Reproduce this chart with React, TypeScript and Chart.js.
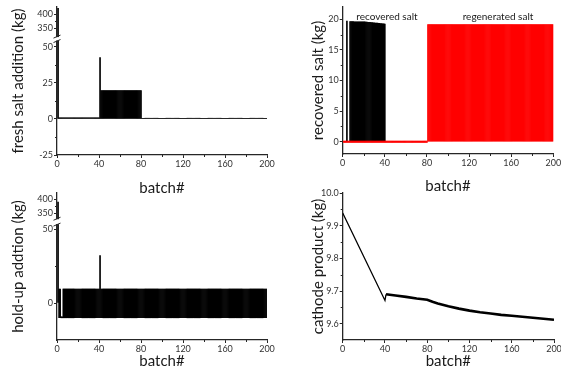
import React, { useEffect, useRef } from 'react';
import { Chart, registerables, LinearScale } from 'chart.js';

const FONT = 'Lato, "Noto Sans", sans-serif';
const AXIS = '#262626';
const TICK_COLOR = '#333333';
const TITLE_COLOR = '#1a1a1a';

// ---------- data ----------
// fresh salt addition (kg), batches 1..200
const freshSalt = [
  420, 0.8, 0.8, 0.8, 0.8, 0.8, 0.8, 0.8, 0.8, 0.8, 0.8, 0.8, 0.8, 0.8, 0.8, 0.8, 0.8, 0.8, 0.8, 0.8,
  0.8, 0.8, 0.8, 0.8, 0.8, 0.8, 0.8, 0.8, 0.8, 0.8, 0.8, 0.8, 0.8, 0.8, 0.8, 0.8, 0.8, 0.8, 0.8, 0.8,
  42.5, 19.7, 19.7, 19.7, 19.7, 19.7, 19.7, 19.7, 19.7, 19.7, 19.7, 19.7, 19.7, 19.7, 19.7, 19.7, 19.7, 19.7, 19.7, 19.7,
  19.7, 19.7, 19.7, 19.7, 19.7, 19.7, 19.7, 19.7, 19.7, 19.7, 19.7, 19.7, 19.7, 19.7, 19.7, 19.7, 19.7, 19.7, 19.7, 19.7,
  0.5, 0.5, 0.5, 0.5, 0.5, 0.5, 0.5, 0.5, 0.5, 0.5, 0.5, 0.5, 0.5, 0.5, 0.5, 0.5, 0.5, 0.5, 0.5, 0.5,
  0.5, 0.5, 0.5, 0.5, 0.5, 0.5, 0.5, 0.5, 0.5, 0.5, 0.5, 0.5, 0.5, 0.5, 0.5, 0.5, 0.5, 0.5, 0.5, 0.5,
  0.5, 0.5, 0.5, 0.5, 0.5, 0.5, 0.5, 0.5, 0.5, 0.5, 0.5, 0.5, 0.5, 0.5, 0.5, 0.5, 0.5, 0.5, 0.5, 0.5,
  0.5, 0.5, 0.5, 0.5, 0.5, 0.5, 0.5, 0.5, 0.5, 0.5, 0.5, 0.5, 0.5, 0.5, 0.5, 0.5, 0.5, 0.5, 0.5, 0.5,
  0.5, 0.5, 0.5, 0.5, 0.5, 0.5, 0.5, 0.5, 0.5, 0.5, 0.5, 0.5, 0.5, 0.5, 0.5, 0.5, 0.5, 0.5, 0.5, 0.5,
  0.5, 0.5, 0.5, 0.5, 0.5, 0.5, 0.5, 0.5, 0.5, 0.5, 0.5, 0.5, 0.5, 0.5, 0.5, 0.5, 0.5, 0.5, 0.5, 0.5,
];

// recovered salt (kg), batches 1..40
const recoveredSalt = [
  null, null, null, 19.7, null, null, 19.62, 19.62, 19.61, 19.61, 19.6, 19.6, 19.6, 19.59, 19.59, 19.59, 19.58, 19.58, 19.58, 19.57,
  19.57, 19.55, 19.54, 19.52, 19.5, 19.49, 19.47, 19.46, 19.44, 19.42, 19.4, 19.38, 19.36, 19.34, 19.32, 19.3, 19.28, 19.26, 19.24, 19.22,
];

// regenerated salt (kg), batches 1..200
const regeneratedSalt = [
  0, 0, 0, 0, 0, 0, 0, 0, 0, 0, 0, 0, 0, 0, 0, 0, 0, 0, 0, 0,
  0, 0, 0, 0, 0, 0, 0, 0, 0, 0, 0, 0, 0, 0, 0, 0, 0, 0, 0, 0,
  0, 0, 0, 0, 0, 0, 0, 0, 0, 0, 0, 0, 0, 0, 0, 0, 0, 0, 0, 0,
  0, 0, 0, 0, 0, 0, 0, 0, 0, 0, 0, 0, 0, 0, 0, 0, 0, 0, 0, 0,
  19.15, 19.15, 19.15, 19.15, 19.15, 19.15, 19.15, 19.15, 19.15, 19.15, 19.15, 19.15, 19.15, 19.15, 19.15, 19.15, 19.15, 19.15, 19.15, 19.15,
  19.15, 19.15, 19.15, 19.15, 19.15, 19.15, 19.15, 19.15, 19.15, 19.15, 19.15, 19.15, 19.15, 19.15, 19.15, 19.15, 19.15, 19.15, 19.15, 19.15,
  19.15, 19.15, 19.15, 19.15, 19.15, 19.15, 19.15, 19.15, 19.15, 19.15, 19.15, 19.15, 19.15, 19.15, 19.15, 19.15, 19.15, 19.15, 19.15, 19.15,
  19.15, 19.15, 19.15, 19.15, 19.15, 19.15, 19.15, 19.15, 19.15, 19.15, 19.15, 19.15, 19.15, 19.15, 19.15, 19.15, 19.15, 19.15, 19.15, 19.15,
  19.15, 19.15, 19.15, 19.15, 19.15, 19.15, 19.15, 19.15, 19.15, 19.15, 19.15, 19.15, 19.15, 19.15, 19.15, 19.15, 19.15, 19.15, 19.15, 19.15,
  19.15, 19.15, 19.15, 19.15, 19.15, 19.15, 19.15, 19.15, 19.15, 19.15, 19.15, 19.15, 19.15, 19.15, 19.15, 19.15, 19.15, 19.15, 19.15, 19.15,
];

// hold-up addition (kg): top and bottom of each batch's bar, batches 1..200
const holdUpHigh = [
  390, 9.5, 9.5, -9.3, -9.3, 9.5, 9.5, 9.5, 9.5, 9.5, 9.5, 9.5, 9.5, 9.5, 9.5, 9.5, 9.5, 9.5, 9.5, 9.5,
  9.5, 9.5, 9.5, 9.5, 9.5, 9.5, 9.5, 9.5, 9.5, 9.5, 9.5, 9.5, 9.5, 9.5, 9.5, 9.5, 9.5, 9.5, 9.5, 9.5,
  32, 9.5, 9.5, 9.5, 9.5, 9.5, 9.5, 9.5, 9.5, 9.5, 9.5, 9.5, 9.5, 9.5, 9.5, 9.5, 9.5, 9.5, 9.5, 9.5,
  9.5, 9.5, 9.5, 9.5, 9.5, 9.5, 9.5, 9.5, 9.5, 9.5, 9.5, 9.5, 9.5, 9.5, 9.5, 9.5, 9.5, 9.5, 9.5, 9.5,
  9.5, 9.5, 9.5, 9.5, 9.5, 9.5, 9.5, 9.5, 9.5, 9.5, 9.5, 9.5, 9.5, 9.5, 9.5, 9.5, 9.5, 9.5, 9.5, 9.5,
  9.5, 9.5, 9.5, 9.5, 9.5, 9.5, 9.5, 9.5, 9.5, 9.5, 9.5, 9.5, 9.5, 9.5, 9.5, 9.5, 9.5, 9.5, 9.5, 9.5,
  9.5, 9.5, 9.5, 9.5, 9.5, 9.5, 9.5, 9.5, 9.5, 9.5, 9.5, 9.5, 9.5, 9.5, 9.5, 9.5, 9.5, 9.5, 9.5, 9.5,
  9.5, 9.5, 9.5, 9.5, 9.5, 9.5, 9.5, 9.5, 9.5, 9.5, 9.5, 9.5, 9.5, 9.5, 9.5, 9.5, 9.5, 9.5, 9.5, 9.5,
  9.5, 9.5, 9.5, 9.5, 9.5, 9.5, 9.5, 9.5, 9.5, 9.5, 9.5, 9.5, 9.5, 9.5, 9.5, 9.5, 9.5, 9.5, 9.5, 9.5,
  9.5, 9.5, 9.5, 9.5, 9.5, 9.5, 9.5, 9.5, 9.5, 9.5, 9.5, 9.5, 9.5, 9.5, 9.5, 9.5, 9.5, 9.5, 9.5, 9.5,
];
const holdUpLow = [
  0, -10, -10, -10, -10, -10, -10, -10, -10, -10, -10, -10, -10, -10, -10, -10, -10, -10, -10, -10,
  -10, -10, -10, -10, -10, -10, -10, -10, -10, -10, -10, -10, -10, -10, -10, -10, -10, -10, -10, -10,
  -10, -10, -10, -10, -10, -10, -10, -10, -10, -10, -10, -10, -10, -10, -10, -10, -10, -10, -10, -10,
  -10, -10, -10, -10, -10, -10, -10, -10, -10, -10, -10, -10, -10, -10, -10, -10, -10, -10, -10, -10,
  -10, -10, -10, -10, -10, -10, -10, -10, -10, -10, -10, -10, -10, -10, -10, -10, -10, -10, -10, -10,
  -10, -10, -10, -10, -10, -10, -10, -10, -10, -10, -10, -10, -10, -10, -10, -10, -10, -10, -10, -10,
  -10, -10, -10, -10, -10, -10, -10, -10, -10, -10, -10, -10, -10, -10, -10, -10, -10, -10, -10, -10,
  -10, -10, -10, -10, -10, -10, -10, -10, -10, -10, -10, -10, -10, -10, -10, -10, -10, -10, -10, -10,
  -10, -10, -10, -10, -10, -10, -10, -10, -10, -10, -10, -10, -10, -10, -10, -10, -10, -10, -10, -10,
  -10, -10, -10, -10, -10, -10, -10, -10, -10, -10, -10, -10, -10, -10, -10, -10, -10, -10, -10, -10,
];

// cathode product (kg)
const cathodeBatch = [0, 40, 41, 50, 60, 70, 80, 85, 90, 100, 110, 120, 130, 140, 150, 160, 170, 180, 190, 200];
const cathodeProduct = [9.939, 9.671, 9.690, 9.686, 9.682, 9.677, 9.673, 9.667, 9.662, 9.653, 9.646, 9.640, 9.635, 9.631, 9.627, 9.624, 9.621, 9.618, 9.615, 9.612];

// ticks
const xTicks = [0, 40, 80, 120, 160, 200];
const xMinor = [20, 60, 100, 140, 180];
const freshTicks = [-25, 0, 25, 50, 350, 400];
const freshMinor = [-12.5, 12.5, 37.5, 375];
const recoveredTicks = [0, 5, 10, 15, 20];
const recoveredMinor = [2.5, 7.5, 12.5, 17.5];
const holdTicks = [0, 50, 350, 400];
const holdMinor = [25, 375];
const cathodeTicks = [9.6, 9.7, 9.8, 9.9, 10.0];
const cathodeMinor = [9.65, 9.75, 9.85, 9.95];

// ---------- broken axis scale ----------
const BREAKS: Record<string, any> = {
  yFresh: { lowMin: -25, lowMax: 54, highMin: 320, highMax: 425, lowFrac: 0.77, highFrac: 0.2 },
  yHold: { lowMin: -25, lowMax: 53, highMin: 330, highMax: 422, lowFrac: 0.785, highFrac: 0.175 },
};

class BrokenScale extends LinearScale {
  static id = 'broken';
  static defaults = {};
  getPixelForValue(value: any) {
    const b = BREAKS[(this as any).id];
    if (!b) return super.getPixelForValue(value);
    if (value === null || value === undefined || isNaN(value)) return NaN;
    const top = (this as any).top, bottom = (this as any).bottom;
    const H = bottom - top;
    const lowH = H * b.lowFrac, highH = H * b.highFrac, gap = H - lowH - highH;
    if (value <= b.lowMax) return bottom - ((value - b.lowMin) / (b.lowMax - b.lowMin)) * lowH;
    if (value >= b.highMin) return top + ((b.highMax - value) / (b.highMax - b.highMin)) * highH;
    return bottom - lowH - ((value - b.lowMax) / (b.highMin - b.lowMax)) * gap;
  }
  getValueForPixel(pixel: number) {
    const b = BREAKS[(this as any).id];
    if (!b) return super.getValueForPixel(pixel);
    const top = (this as any).top, bottom = (this as any).bottom;
    const H = bottom - top;
    const lowH = H * b.lowFrac, highH = H * b.highFrac, gap = H - lowH - highH;
    const fromBottom = bottom - pixel;
    if (fromBottom <= lowH) return b.lowMin + (fromBottom / lowH) * (b.lowMax - b.lowMin);
    const fromTop = pixel - top;
    if (fromTop <= highH) return b.highMax - (fromTop / highH) * (b.highMax - b.highMin);
    return b.lowMax + ((fromBottom - lowH) / gap) * (b.highMin - b.lowMax);
  }
}

Chart.register(...registerables, BrokenScale as any);

// ---------- helpers ----------
const tickFont = { family: FONT, size: 9 };
const titleFont = { family: FONT, size: 15, lineHeight: 1.2 };

function xAxis(h: number) {
  return {
    type: 'linear',
    axis: 'x',
    position: 'bottom',
    min: 0,
    max: 200,
    offset: false,
    grid: { display: true, drawOnChartArea: false, drawTicks: true, tickLength: 3, color: AXIS, lineWidth: 1, offset: false },
    border: { display: true, color: AXIS, width: 1.2 },
    ticks: { font: tickFont, color: TICK_COLOR, padding: 1, autoSkip: false, maxRotation: 0, callback: (v: number) => String(v) },
    afterBuildTicks: (s: any) => { s.ticks = xTicks.map((value) => ({ value })); },
    title: { display: true, text: 'batch#', font: titleFont, color: TITLE_COLOR, padding: 0 },
    afterFit: (s: any) => { s.height = h; s.paddingLeft = 0; s.paddingRight = 0; },
  };
}

function yAxis(o: { type: string; min: number; max: number; ticks: number[]; width: number; title: string; fmt?: (v: number) => string }) {
  return {
    type: o.type,
    axis: 'y',
    position: 'left',
    min: o.min,
    max: o.max,
    grid: { display: true, drawOnChartArea: false, drawTicks: true, tickLength: 3, color: AXIS, lineWidth: 1 },
    border: { display: true, color: AXIS, width: 1.3 },
    ticks: { font: tickFont, color: TICK_COLOR, padding: 1, autoSkip: false, callback: o.fmt || ((v: number) => String(v)) },
    afterBuildTicks: (s: any) => { s.ticks = o.ticks.map((value) => ({ value })); },
    title: { display: true, text: o.title, font: titleFont, color: TITLE_COLOR, padding: 0 },
    afterFit: (s: any) => { s.width = o.width; s.paddingTop = 0; s.paddingBottom = 0; },
  };
}

function extras(cfg: { minor: Record<string, number[]>; brk?: string; labels?: { text: string; x: number; y: number; yId: string }[] }) {
  return {
    id: 'extras',
    afterDraw(chart: any) {
      const ctx = chart.ctx;
      ctx.save();
      ctx.strokeStyle = AXIS;
      ctx.lineWidth = 1;
      for (const id of Object.keys(cfg.minor)) {
        const s = chart.scales[id];
        for (const v of cfg.minor[id]) {
          const p = s.getPixelForValue(v);
          ctx.beginPath();
          if (s.isHorizontal()) {
            const px = Math.round(p) + 0.5;
            ctx.moveTo(px, s.top);
            ctx.lineTo(px, s.top + 2);
          } else {
            const py = Math.round(p) + 0.5;
            ctx.moveTo(s.right, py);
            ctx.lineTo(s.right - 2, py);
          }
          ctx.stroke();
        }
      }
      if (cfg.brk) {
        const s = chart.scales[cfg.brk];
        const b = BREAKS[cfg.brk];
        const y0 = s.getPixelForValue(b.lowMax);
        const y1 = s.getPixelForValue(b.highMin);
        const x = chart.chartArea.left;
        ctx.fillStyle = '#ffffff';
        ctx.fillRect(x - 2, y1 + 0.5, 4, y0 - y1 - 1);
        ctx.lineWidth = 1;
        for (const y of [y0, y1]) {
          ctx.beginPath();
          ctx.moveTo(x - 3.5, y + 1.5);
          ctx.lineTo(x + 3.5, y - 1.5);
          ctx.stroke();
        }
      }
      if (cfg.labels) {
        ctx.fillStyle = TITLE_COLOR;
        ctx.font = `10px ${FONT}`;
        ctx.textAlign = 'center';
        ctx.textBaseline = 'middle';
        for (const l of cfg.labels) {
          ctx.fillText(l.text, chart.scales.x.getPixelForValue(l.x), chart.scales[l.yId].getPixelForValue(l.y));
        }
      }
      ctx.restore();
    },
  };
}

const BASE = {
  responsive: false,
  maintainAspectRatio: false,
  animation: false,
  devicePixelRatio: 1,
  events: [],
  plugins: { legend: { display: false }, tooltip: { enabled: false } },
};

const BAR = { barPercentage: 1, categoryPercentage: 1, grouped: false, borderWidth: 0, inflateAmount: 0.3 };

function cfgFresh(): any {
  return {
    type: 'bar',
    data: {
      datasets: [{ ...BAR, label: 'fresh salt addition', data: freshSalt.map((y, i) => ({ x: i + 1, y })), backgroundColor: '#000', yAxisID: 'yFresh' }],
    },
    options: {
      ...BASE,
      layout: { padding: { left: 9, top: 7, right: 294, bottom: 185 } },
      scales: {
        x: xAxis(42),
        yFresh: yAxis({ type: 'broken', min: -25, max: 425, ticks: freshTicks, width: 48, title: 'fresh salt addition (kg)' }),
      },
    },
    plugins: [extras({ minor: { x: xMinor, yFresh: freshMinor }, brk: 'yFresh' })],
  };
}

function cfgRecovered(): any {
  return {
    type: 'bar',
    data: {
      datasets: [
        { ...BAR, label: 'regenerated salt', data: regeneratedSalt.map((y, i) => ({ x: i + 1, y })), backgroundColor: '#ff0000', minBarLength: 1.5, yAxisID: 'yRec' },
        { ...BAR, label: 'recovered salt', data: recoveredSalt.map((y, i) => ({ x: i + 1, y })), backgroundColor: '#000', yAxisID: 'yRec' },
      ],
    },
    options: {
      ...BASE,
      layout: { padding: { left: 309, top: 7, right: 7.7, bottom: 187 } },
      scales: {
        x: xAxis(41),
        yRec: yAxis({ type: 'linear', min: -2, max: 22, ticks: recoveredTicks, width: 33.7, title: 'recovered salt (kg)' }),
      },
    },
    plugins: [
      extras({
        minor: { x: xMinor, yRec: recoveredMinor },
        labels: [
          { text: 'recovered salt', x: 42, y: 20.45, yId: 'yRec' },
          { text: 'regenerated salt', x: 147.5, y: 20.45, yId: 'yRec' },
        ],
      }),
    ],
  };
}

function cfgHold(): any {
  return {
    type: 'bar',
    data: {
      datasets: [
        { ...BAR, label: 'hold-up addtion', data: holdUpHigh.map((h, i) => ({ x: i + 1, y: [holdUpLow[i], h] })), backgroundColor: '#000', yAxisID: 'yHold' },
      ],
    },
    options: {
      ...BASE,
      layout: { padding: { left: 9, top: 193, right: 294, bottom: 12 } },
      scales: {
        x: xAxis(30),
        yHold: yAxis({ type: 'broken', min: -25, max: 422, ticks: holdTicks, width: 48, title: 'hold-up addtion (kg)' }),
      },
    },
    plugins: [extras({ minor: { x: xMinor, yHold: holdMinor }, brk: 'yHold' })],
  };
}

function cfgCathode(): any {
  return {
    type: 'line',
    data: {
      datasets: [
        {
          label: 'cathode product',
          data: cathodeBatch.map((x, i) => ({ x, y: cathodeProduct[i] })),
          borderColor: '#000',
          borderWidth: 2.6,
          pointRadius: 0,
          tension: 0,
          fill: false,
          yAxisID: 'yCath',
          segment: { borderWidth: (c: any) => (c.p1.parsed.x <= 41 ? 1.3 : 2.6) },
        },
      ],
    },
    options: {
      ...BASE,
      layout: { padding: { left: 309, top: 193, right: 7, bottom: 12 } },
      scales: {
        x: xAxis(30),
        yCath: yAxis({ type: 'linear', min: 9.55, max: 10.0, ticks: cathodeTicks, width: 33.7, title: 'cathode product (kg)', fmt: (v: number) => v.toFixed(1) }),
      },
    },
    plugins: [extras({ minor: { x: xMinor, yCath: cathodeMinor } })],
  };
}

export default function App() {
  const r1 = useRef<HTMLCanvasElement>(null);
  const r2 = useRef<HTMLCanvasElement>(null);
  const r3 = useRef<HTMLCanvasElement>(null);
  const r4 = useRef<HTMLCanvasElement>(null);

  useEffect(() => {
    const charts = [
      new Chart(r1.current as any, cfgFresh()),
      new Chart(r2.current as any, cfgRecovered()),
      new Chart(r3.current as any, cfgHold()),
      new Chart(r4.current as any, cfgCathode()),
    ];
    return () => charts.forEach((c) => c.destroy());
  }, []);

  const cs: React.CSSProperties = { position: 'absolute', left: 0, top: 0, width: 561, height: 382 };
  return (
    <div style={{ position: 'absolute', left: 0, top: 0, width: 561, height: 382, background: '#fff', overflow: 'hidden' }}>
      <canvas ref={r1} width={561} height={382} style={cs} />
      <canvas ref={r2} width={561} height={382} style={cs} />
      <canvas ref={r3} width={561} height={382} style={cs} />
      <canvas ref={r4} width={561} height={382} style={cs} />
    </div>
  );
}
